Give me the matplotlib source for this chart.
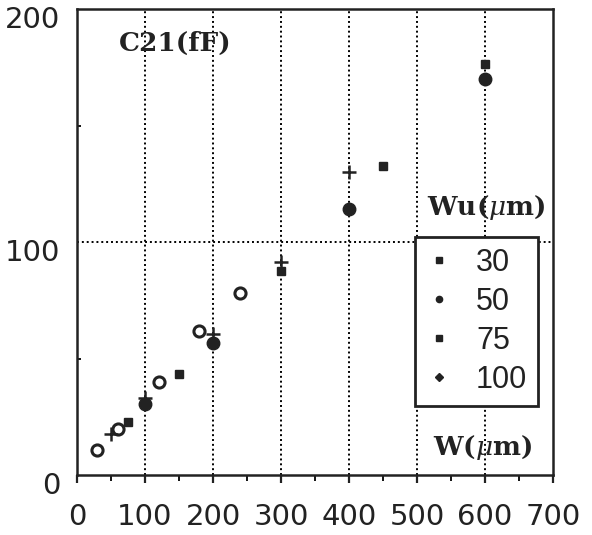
import matplotlib
matplotlib.use("Agg")
import matplotlib.pyplot as plt
import matplotlib.transforms as mtransforms
from matplotlib.lines import Line2D

plt.rcParams['mathtext.fontset'] = 'dejavuserif'

# Data: W (um) vs C21 (fF) for unit widths Wu
w_30 = [30, 60, 120, 180, 240]
c_30 = [10.9, 19.8, 39.7, 61.8, 78.0]
w_50 = [50, 100, 200, 300, 400]
c_50 = [17.6, 33.0, 60.5, 91.5, 130.0]
w_75 = [75, 150, 300, 450, 600]
c_75 = [22.8, 43.3, 87.7, 132.5, 176.5]
w_100 = [100, 200, 400, 600]
c_100 = [30.5, 56.5, 114.0, 170.0]

legend_labels = ["30", "50", "75", "100"]
x_ticks = [0, 100, 200, 300, 400, 500, 600, 700]
y_ticks = [0, 100, 200]

fig = plt.figure(figsize=(5.92, 5.35), dpi=100)
ax = fig.add_axes([77/592, 60/535, 476/592, 466/535])
ax.set_xlim(0, 700)
ax.set_ylim(0, 200)

# grid
for xv in x_ticks[1:-1]:
    ax.axvline(xv, color='black', linestyle=(0, (1, 1.5)), linewidth=1.4, zorder=1)
ax.axhline(100, color='black', linestyle=(0, (1, 1.5)), linewidth=1.4, zorder=1)

# series
ax.plot(w_30, c_30, linestyle='none', marker='o', markersize=8, markerfacecolor='white',
        markeredgecolor='#222222', markeredgewidth=2.2, zorder=3)
ax.plot(w_50, c_50, linestyle='none', marker='+', markersize=10, color='#222222',
        markeredgewidth=1.8, zorder=3)
ax.plot(w_75, c_75, linestyle='none', marker='s', markersize=6, color='#222222', zorder=3)
ax.plot(w_100, c_100, linestyle='none', marker='o', markersize=9, color='#222222', zorder=4)

for s in ax.spines.values():
    s.set_linewidth(1.8)
    s.set_color('#222222')

ax.set_xticks(x_ticks)
ax.set_xticks([50, 150, 250, 350, 450, 550, 650], minor=True)
ax.set_yticks(y_ticks)
ax.set_yticks([50, 150], minor=True)
ax.tick_params(axis='x', which='major', direction='out', length=6, width=1.6, pad=14,
               labelsize=21, colors='#222222')
ax.tick_params(axis='x', which='minor', direction='out', length=4, width=1.3)
ax.tick_params(axis='y', which='major', direction='out', length=0, pad=12,
               labelsize=21, colors='#222222')
ax.tick_params(axis='y', which='minor', direction='in', length=3, width=1.3)
ax.set_xticklabels([str(v) for v in x_ticks])
ax.set_yticklabels([str(v) for v in y_ticks])
offset = mtransforms.ScaledTranslation(0, -8/100, fig.dpi_scale_trans)
for lab in ax.get_yticklabels():
    lab.set_transform(lab.get_transform() + offset)

serif = dict(family='DejaVu Serif', fontweight='bold', color='#222222')
ax.text(0.206, 0.927, "C21(fF)", transform=ax.transAxes, ha='center', va='center',
        fontsize=19, **serif)
ax.text(0.859, 0.573, r"Wu($\mu$m)", transform=ax.transAxes, ha='center', va='center',
        fontsize=19, **serif)
ax.text(0.853, 0.058, r"W($\mu$m)", transform=ax.transAxes, ha='center', va='center',
        fontsize=19, **serif)

handles = [
    Line2D([], [], linestyle='none', marker='s', markersize=5, color='#222222'),
    Line2D([], [], linestyle='none', marker='o', markersize=4.5, color='#222222'),
    Line2D([], [], linestyle='none', marker='s', markersize=5, color='#222222'),
    Line2D([], [], linestyle='none', marker='D', markersize=4.5, color='#222222'),
]
leg = ax.legend(handles, legend_labels, loc='upper left', bbox_to_anchor=(0.71, 0.511),
                frameon=True, fancybox=False, edgecolor='#222222', framealpha=1,
                prop={'family': 'Liberation Sans', 'size': 22}, handlelength=0.9,
                handletextpad=0.75, labelspacing=0.3, borderpad=0.35, borderaxespad=0)
leg.get_frame().set_linewidth(2)
for t in leg.get_texts():
    t.set_color('#222222')

fig.savefig("out.png", dpi=100)
